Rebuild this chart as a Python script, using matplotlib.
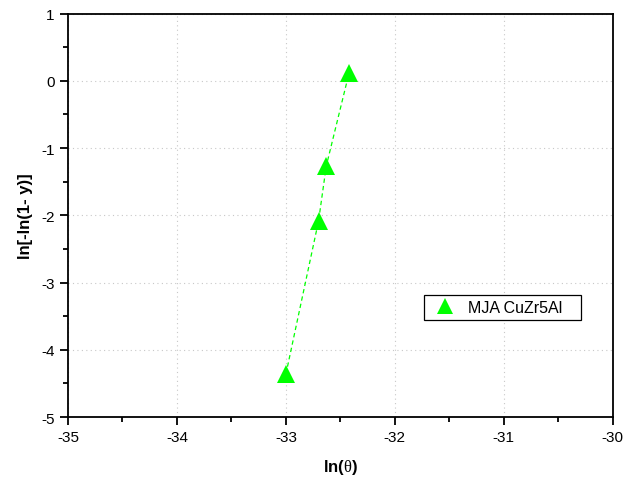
import matplotlib

matplotlib.use("Agg")
import matplotlib.pyplot as plt
from matplotlib.lines import Line2D
from matplotlib.ticker import MultipleLocator

# values
ln_theta = [-33.00, -32.70, -32.63, -32.42]
ln_ln = [-4.36, -2.08, -1.27, 0.12]
series_label = "MJA CuZr5Al"

plt.rcParams["font.family"] = ["Liberation Sans", "DejaVu Sans"]
plt.rcParams["axes.unicode_minus"] = False
plt.rcParams["mathtext.fontset"] = "custom"
plt.rcParams["mathtext.rm"] = "Liberation Serif"
plt.rcParams["mathtext.it"] = "Liberation Serif"
plt.rcParams["mathtext.bf"] = "Liberation Sans:bold"

green = "#00ff00"

fig = plt.figure(figsize=(6.24, 4.85), dpi=100)
ax = fig.add_axes([0.109, 0.138, 0.873, 0.832])

ax.plot(ln_theta, ln_ln, color=green, lw=0.9, ls=(0, (3.5, 2.5)), zorder=2)
ax.plot(ln_theta, ln_ln, ls="none", marker="^", ms=13.5, color=green,
        markeredgewidth=0, zorder=3)

ax.set_xlim(-35, -30)
ax.set_ylim(-5, 1)
ax.xaxis.set_major_locator(MultipleLocator(1))
ax.xaxis.set_minor_locator(MultipleLocator(0.5))
ax.yaxis.set_major_locator(MultipleLocator(1))
ax.yaxis.set_minor_locator(MultipleLocator(0.5))
ax.tick_params(which="major", direction="out", length=6, width=1.3,
               labelsize=11, top=False, right=False)
ax.tick_params(which="minor", direction="out", length=3.5, width=1.3,
               top=False, right=False)
for sp in ax.spines.values():
    sp.set_linewidth(1.3)

ax.grid(True, which="major", color="#c8c8c8", lw=0.8, ls=(0, (1, 3)))
ax.set_axisbelow(True)

ax.set_xlabel(r"ln($\mathrm{\theta}$)", fontsize=12, fontweight="bold", labelpad=9)
ax.set_ylabel("ln[-ln(1- y)]", fontsize=12, fontweight="bold", labelpad=6)

handle = Line2D([], [], ls="none", marker="^", ms=12, color=green, markeredgewidth=0)
leg = ax.legend([handle], [series_label + "   "], loc="center left",
                bbox_to_anchor=(0.653, 0.272), fontsize=11.5, frameon=True,
                fancybox=False, edgecolor="black", framealpha=1,
                borderpad=0.3, handletextpad=0.5, borderaxespad=0)
leg.get_frame().set_linewidth(0.9)

fig.savefig("out.png", dpi=100)
